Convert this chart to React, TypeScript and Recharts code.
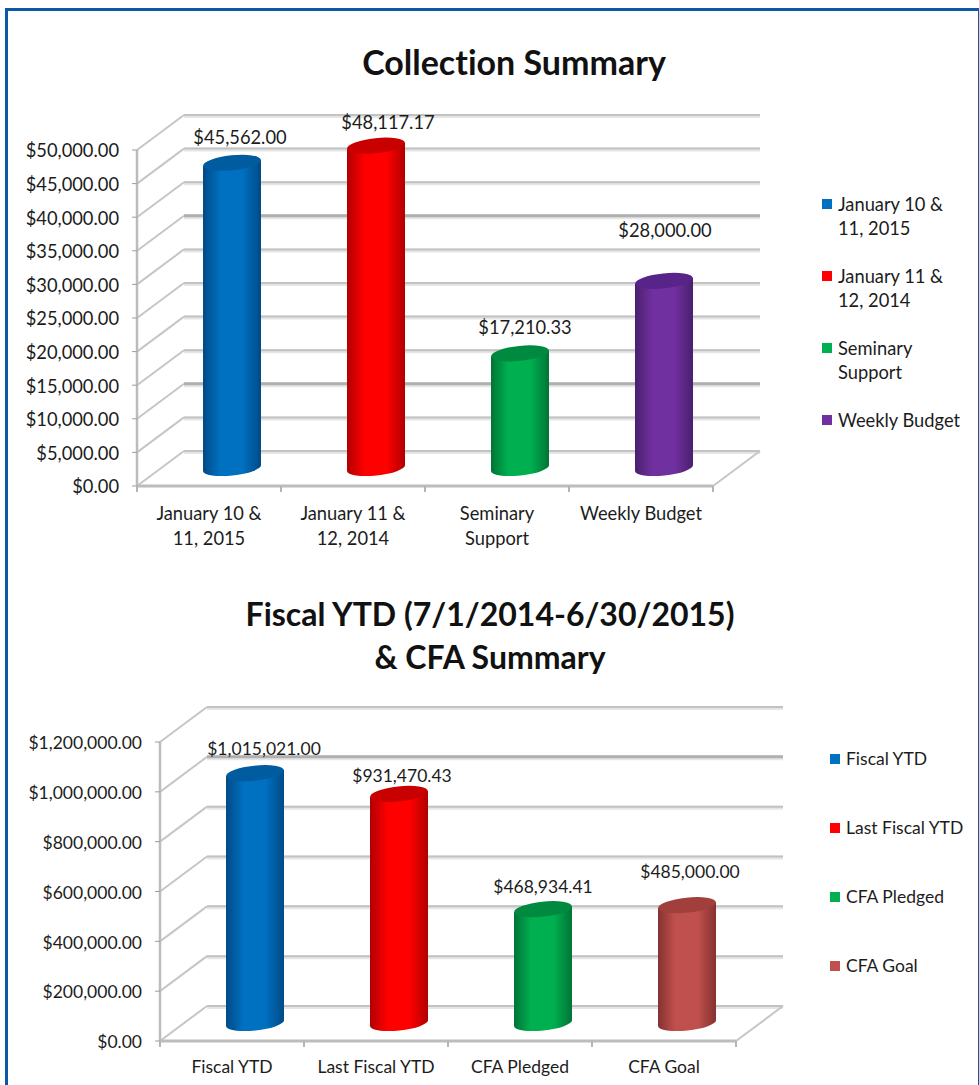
import { BarChart, Bar, Cell, XAxis, YAxis, CartesianGrid, Legend, LabelList } from "recharts";

const collectionCategories = ["January 10 & 11, 2015", "January 11 & 12, 2014", "Seminary Support", "Weekly Budget"];
const collectionValues = [45562.0, 48117.17, 17210.33, 28000.0];
const collectionTicks = [0, 5000, 10000, 15000, 20000, 25000, 30000, 35000, 40000, 45000, 50000];
const collectionColors = ["blue", "red", "green", "purple"];

const fiscalCategories = ["Fiscal YTD", "Last Fiscal YTD", "CFA Pledged", "CFA Goal"];
const fiscalValues = [1015021.0, 931470.43, 468934.41, 485000.0];
const fiscalTicks = [0, 200000, 400000, 600000, 800000, 1000000, 1200000];
const fiscalColors = ["blue", "red", "green", "brown"];

// the data labels sit oddly in the original, so they get nudged one by one
const collectionNudges = [[31, -43], [35, -41], [28, -43], [24, -68]];
const fiscalNudges = [[32, -40], [26, -33], [23, -38], [26, -49]];

const FONT = "Lato, sans-serif";
const TEXT = "#1c1c1c";
const DEPTH_X = 47;
const DEPTH_Y = -35;

const palette: Record<string, { solid: string; edge: string; top: string }> = {
    blue: { solid: "#0070c0", edge: "#004a86", top: "#005c9f" },
    red: { solid: "#ff0000", edge: "#b00000", top: "#c80000" },
    green: { solid: "#00b050", edge: "#007436", top: "#008a40" },
    purple: { solid: "#7030a0", edge: "#4a1f6e", top: "#58248a" },
    brown: { solid: "#c0504d", edge: "#853230", top: "#a03f3c" },
};

const money = (v: number) =>
    "$" + v.toLocaleString("en-US", { minimumFractionDigits: 2, maximumFractionDigits: 2 });

const wrap = (label: string, maxChars: number) => {
    const lines: string[] = [];
    label.split(" ").forEach((word) => {
        const last = lines[lines.length - 1];
        if (last !== undefined && (last + " " + word).length <= maxChars) lines[lines.length - 1] = last + " " + word;
        else lines.push(word);
    });
    return lines;
};

const Cylinder = (props: any) => {
    const { x, y, width, height, colorName, lift } = props;
    const rx = width / 2;
    const ry = 7.5;
    const tilt = 3;
    const left = x + 23;
    const right = left + width;
    const top = y - lift;
    const bottom = y + height - 18;
    const c = palette[colorName];
    return (
        <g>
            <path
                d={`M${left},${top + tilt} L${left},${bottom + tilt} A${rx},${ry} -6 0 0 ${right},${bottom - tilt} L${right},${top - tilt} Z`}
                fill={`url(#cyl-${colorName})`}
            />
            <ellipse
                cx={left + rx}
                cy={top}
                rx={rx}
                ry={ry}
                fill={c.top}
                transform={`rotate(-6 ${left + rx} ${top})`}
            />
        </g>
    );
};

const Wall = (props: any) => {
    const { x1, x2, y1, bottomY, strong } = props;
    const isStrong = strong.includes(Math.round(y1));
    const atFloor = Math.abs(y1 - bottomY) < 1;
    const backY = y1 + DEPTH_Y;
    return (
        <g fill="none">
            <line x1={x1} y1={y1} x2={x1 + DEPTH_X} y2={backY} stroke="#c6c6c6" strokeWidth={2} />
            <line x1={x1 + DEPTH_X} y1={backY + 1} x2={x2 + DEPTH_X} y2={backY + 1} stroke="#e6e6e6" strokeWidth={isStrong ? 5 : 4} />
            <line x1={x1 + DEPTH_X} y1={backY} x2={x2 + DEPTH_X} y2={backY} stroke={isStrong ? "#b0b0b0" : "#c2c2c2"} strokeWidth={isStrong ? 3 : 2} />
            {atFloor && <line x1={x2} y1={y1} x2={x2 + DEPTH_X} y2={backY} stroke="#c6c6c6" strokeWidth={2} />}
        </g>
    );
};

const CategoryTick = (props: any) => {
    const { x, y, payload, index, bandSize, count, maxChars, fontSize, labelGap } = props;
    const edge = x - bandSize / 2;
    return (
        <g>
            <line x1={edge} y1={y - 8} x2={edge} y2={y - 2} stroke="#b4b4b4" strokeWidth={2} />
            {index === count - 1 && (
                <line x1={edge + bandSize} y1={y - 8} x2={edge + bandSize} y2={y - 2} stroke="#b4b4b4" strokeWidth={2} />
            )}
            {wrap(payload.value, maxChars).map((line, i) => (
                <text
                    key={i}
                    x={x}
                    y={y + labelGap + i * 25}
                    textAnchor="middle"
                    dominantBaseline="central"
                    fontFamily={FONT}
                    fontSize={fontSize}
                    fill={TEXT}
                >
                    {line}
                </text>
            ))}
        </g>
    );
};

const ValueLabel = (props: any) => {
    const { x, y, width, value, index, nudges, fontSize } = props;
    return (
        <text
            x={x + width / 2 + nudges[index][0]}
            y={y + nudges[index][1]}
            textAnchor="middle"
            dominantBaseline="central"
            fontFamily={FONT}
            fontSize={fontSize}
            fill={TEXT}
        >
            {money(value)}
        </text>
    );
};

const SideLegend = ({ categories, colors, gap, maxChars, fontSize }: any) => (
    <div style={{ fontFamily: FONT, fontSize, lineHeight: "24px", color: TEXT }}>
        {categories.map((name: string, i: number) => (
            <div key={name} style={{ position: "relative", paddingLeft: 16, marginBottom: gap }}>
                <span
                    style={{
                        position: "absolute",
                        left: 0,
                        top: 7,
                        width: 10,
                        height: 10,
                        background: palette[colors[i]].solid,
                    }}
                />
                {wrap(name, maxChars).map((line) => (
                    <div key={line}>{line}</div>
                ))}
            </div>
        ))}
    </div>
);

const CylinderChart = ({
    categories, values, colors, ticks, nudges, height, plotTop, plotBottom, axisX, strong, legendX, legendY, legendGap, legendChars, tickChars, lift, fontSize, labelGap,
}: any) => {
    const data = categories.map((name: string, i: number) => ({ name, value: values[i] }));
    const plotWidth = 576;
    const bandSize = plotWidth / categories.length;
    return (
        <BarChart
            width={979}
            height={height}
            data={data}
            margin={{ top: plotTop, right: 979 - axisX - plotWidth, bottom: 0, left: 0 }}
            style={{ position: "absolute", left: 0, top: 0 }}
        >
            <defs>
                {Array.from(new Set<string>(colors)).map((name) => (
                    <linearGradient key={name} id={`cyl-${name}`} x1="0" y1="0" x2="1" y2="0">
                        <stop offset="0%" stopColor={palette[name].edge} />
                        <stop offset="30%" stopColor={palette[name].solid} />
                        <stop offset="68%" stopColor={palette[name].solid} />
                        <stop offset="100%" stopColor={palette[name].edge} />
                    </linearGradient>
                ))}
            </defs>
            <CartesianGrid
                vertical={false}
                horizontal={(p: any) => <Wall {...p} key={p.key} bottomY={plotBottom} strong={strong} />}
            />
            <XAxis
                dataKey="name"
                height={height - plotBottom}
                interval={0}
                tickLine={false}
                axisLine={{ stroke: "#bcbcbc", strokeWidth: 3 }}
                tick={<CategoryTick bandSize={bandSize} count={categories.length} maxChars={tickChars} fontSize={fontSize} labelGap={labelGap} />}
            />
            <YAxis
                width={axisX}
                domain={[ticks[0], ticks[ticks.length - 1]]}
                ticks={ticks}
                interval={0}
                tickFormatter={money}
                tickSize={5}
                tickMargin={13}
                axisLine={{ stroke: "#bcbcbc", strokeWidth: 2.5 }}
                tickLine={{ stroke: "#9c9c9c" }}
                tick={{ fontFamily: FONT, fontSize, fill: TEXT, dy: 1 }}
            />
            <Legend
                layout="vertical"
                align="center"
                verticalAlign="middle"
                wrapperStyle={{ left: legendX, top: legendY, width: 149, bottom: "auto", right: "auto" }}
                content={() => <SideLegend categories={categories} colors={colors} gap={legendGap} maxChars={legendChars} fontSize={fontSize} />}
            />
            <Bar
                dataKey="value"
                barSize={58}
                isAnimationActive={false}
                shape={(p: any) => <Cylinder {...p} colorName={colors[p.index]} lift={lift} />}
            >
                {data.map((d: any, i: number) => (
                    <Cell key={d.name} fill={palette[colors[i]].solid} />
                ))}
                <LabelList dataKey="value" content={<ValueLabel nudges={nudges} fontSize={fontSize} />} />
            </Bar>
        </BarChart>
    );
};

const titleStyle = {
    position: "absolute",
    fontFamily: FONT,
    fontWeight: 700,
    color: "#111",
    textAlign: "center",
    whiteSpace: "nowrap",
    fontVariantLigatures: "none",
} as const;

export default function App() {
    return (
        <div style={{ position: "absolute", left: 0, top: 0, width: 979, height: 1085, overflow: "hidden", background: "#fff" }}>
            <div
                style={{
                    position: "absolute",
                    left: 5,
                    top: 8,
                    width: 970,
                    height: 1200,
                    borderStyle: "solid",
                    borderColor: "#0b57a8",
                    borderWidth: "3px 2px 0 3px",
                }}
            />
            <div style={{ position: "absolute", left: 0, top: 0, width: 979, height: 570 }}>
                <CylinderChart
                    categories={collectionCategories}
                    values={collectionValues}
                    colors={collectionColors}
                    ticks={collectionTicks}
                    nudges={collectionNudges}
                    height={570}
                    plotTop={150}
                    plotBottom={486}
                    axisX={137}
                    strong={[251, 419]}
                    legendX={822}
                    legendY={192}
                    legendGap={24}
                    legendChars={13}
                    tickChars={13}
                    lift={17}
                    fontSize={18.3}
                    labelGap={19}
                />
            </div>
            <div style={{ position: "absolute", left: 0, top: 570, width: 979, height: 515 }}>
                <CylinderChart
                    categories={fiscalCategories}
                    values={fiscalValues}
                    colors={fiscalColors}
                    ticks={fiscalTicks}
                    nudges={fiscalNudges}
                    height={515}
                    plotTop={172}
                    plotBottom={471}
                    axisX={160}
                    strong={[222]}
                    legendX={830}
                    legendY={177}
                    legendGap={45}
                    legendChars={20}
                    tickChars={20}
                    lift={15}
                    fontSize={17.5}
                    labelGap={17}
                />
            </div>
            <div style={{ ...titleStyle, fontSize: 34, left: 0, width: 1028, top: 40, lineHeight: "44px" }}>Collection Summary</div>
            <div style={{ ...titleStyle, fontSize: 32, left: 0, width: 980, top: 592, lineHeight: "43px" }}>
                Fiscal YTD (7/1/2014-6/30/2015)
                <br />
                &amp; CFA Summary
            </div>
        </div>
    );
}
